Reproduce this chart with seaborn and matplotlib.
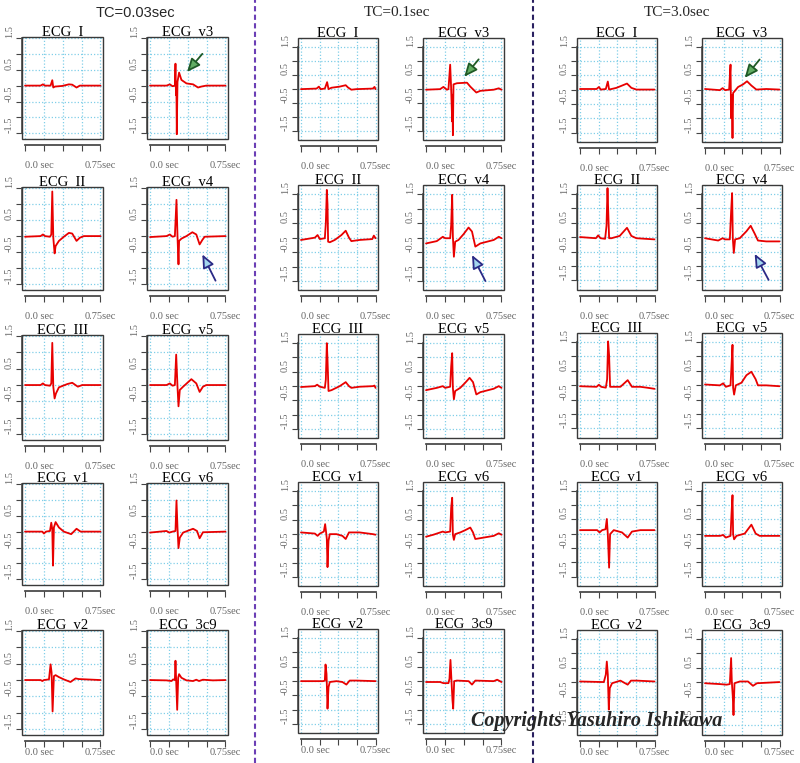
import matplotlib
matplotlib.use("Agg")
import matplotlib.pyplot as plt
import seaborn as sns
from matplotlib.patches import Rectangle
from matplotlib.lines import Line2D

# ---- ECG traces (time in sec, amplitude in mV) ----
# TC = 0.03 sec
g1_I_t = [0.0, 0.155, 0.178, 0.198, 0.254, 0.271, 0.281, 0.297, 0.370, 0.436, 0.469, 0.512, 0.545, 0.75]
g1_I_v = [0.0, 0.0, 0.04, 0.0, 0.0, 0.17, -0.06, -0.03, -0.01, 0.04, 0.03, -0.06, 0.0, 0.0]
g1_v3_t = [0.0, 0.164, 0.197, 0.224, 0.247, 0.253, 0.258, 0.262, 0.266, 0.273, 0.289, 0.312, 0.362, 0.428, 0.477, 0.510, 0.559, 0.75]
g1_v3_v = [0.0, 0.0, 0.04, -0.02, 0.0, 0.69, -0.3, 0.1, -1.53, 0.12, 0.41, 0.18, 0.07, 0.04, -0.06, -0.03, 0.0, 0.0]
g1_II_t = [0.0, 0.155, 0.178, 0.198, 0.248, 0.261, 0.271, 0.281, 0.294, 0.304, 0.337, 0.386, 0.436, 0.469, 0.512, 0.545, 0.585, 0.75]
g1_II_v = [-0.02, 0.0, 0.05, 0.0, -0.02, 0.05, 1.39, -0.05, -0.54, -0.31, -0.15, -0.02, 0.10, 0.08, -0.15, -0.05, 0.0, 0.0]
g1_v4_t = [0.0, 0.164, 0.197, 0.224, 0.247, 0.263, 0.273, 0.283, 0.289, 0.312, 0.362, 0.421, 0.460, 0.493, 0.520, 0.543, 0.75]
g1_v4_v = [-0.03, 0.0, 0.05, -0.02, 0.0, 1.13, 0.0, -0.88, -0.15, -0.08, 0.0, 0.12, 0.05, -0.26, -0.12, -0.02, 0.0]
g1_III_t = [0.0, 0.155, 0.178, 0.198, 0.248, 0.261, 0.271, 0.281, 0.294, 0.307, 0.337, 0.420, 0.469, 0.525, 0.568, 0.75]
g1_III_v = [0.0, 0.0, 0.05, 0.0, -0.02, 0.05, 1.29, -0.05, -0.41, -0.26, -0.07, 0.03, 0.07, -0.05, 0.0, 0.0]
g1_v5_t = [0.0, 0.164, 0.197, 0.224, 0.247, 0.260, 0.273, 0.283, 0.296, 0.329, 0.411, 0.460, 0.493, 0.526, 0.559, 0.75]
g1_v5_v = [0.0, 0.0, 0.05, -0.02, 0.0, 0.93, -0.05, -0.65, -0.15, -0.05, 0.18, 0.05, -0.21, -0.05, 0.0, 0.0]
g1_v1_t = [0.0, 0.172, 0.188, 0.208, 0.248, 0.261, 0.271, 0.278, 0.287, 0.304, 0.337, 0.386, 0.459, 0.512, 0.552, 0.75]
g1_v1_v = [0.0, 0.0, -0.06, 0.0, 0.02, 0.28, 0.07, -1.07, 0.13, 0.30, 0.13, 0.0, -0.08, 0.09, 0.0, 0.0]
g1_v6_t = [0.0, 0.164, 0.191, 0.224, 0.253, 0.263, 0.273, 0.283, 0.296, 0.329, 0.428, 0.467, 0.493, 0.526, 0.75]
g1_v6_v = [-0.03, 0.02, -0.03, 0.0, 0.02, 0.98, 0.12, -0.52, -0.19, -0.03, 0.09, 0.02, -0.21, -0.02, 0.0]
g1_v2_t = [0.0, 0.155, 0.172, 0.188, 0.238, 0.254, 0.264, 0.274, 0.287, 0.304, 0.337, 0.386, 0.452, 0.502, 0.535, 0.75]
g1_v2_v = [0.0, 0.0, -0.03, 0.0, 0.02, 0.48, 0.23, -0.96, 0.12, 0.15, 0.09, 0.02, -0.06, 0.05, 0.03, 0.0]
g1_3c9_t = [0.0, 0.164, 0.214, 0.230, 0.247, 0.253, 0.260, 0.270, 0.280, 0.289, 0.312, 0.362, 0.428, 0.460, 0.487, 0.526, 0.625, 0.75]
g1_3c9_v = [0.0, -0.01, -0.03, 0.02, 0.0, 0.59, -0.03, -0.91, 0.07, 0.18, 0.07, -0.01, -0.03, 0.01, -0.03, 0.01, -0.01, 0.0]

# TC = 0.1 sec
g2_I_t = [0.0, 0.157, 0.18, 0.197, 0.24, 0.263, 0.277, 0.307, 0.39, 0.45, 0.473, 0.507, 0.557, 0.723, 0.74, 0.75]
g2_I_v = [0.0, 0.02, 0.09, 0.0, 0.02, 0.25, 0.0, 0.05, 0.09, 0.14, 0.06, -0.02, 0.0, 0.02, 0.08, 0.0]
g2_v3_t = [0.0, 0.14, 0.173, 0.207, 0.223, 0.24, 0.25, 0.26, 0.263, 0.267, 0.273, 0.307, 0.407, 0.44, 0.5, 0.54, 0.673, 0.723, 0.75]
g2_v3_v = [-0.02, 0.0, 0.08, -0.02, 0.0, 0.87, 0.0, -1.15, -0.2, -1.64, 0.17, 0.21, 0.23, 0.09, -0.12, -0.06, -0.02, 0.03, -0.02]
g2_II_t = [0.0, 0.14, 0.167, 0.19, 0.24, 0.25, 0.26, 0.267, 0.273, 0.29, 0.34, 0.407, 0.45, 0.483, 0.507, 0.59, 0.717, 0.733, 0.75]
g2_II_v = [-0.08, 0.0, 0.09, -0.05, -0.02, 0.5, 1.65, 1.15, -0.14, -0.16, -0.08, 0.09, 0.24, 0.0, -0.12, -0.08, -0.05, 0.07, -0.02]
g2_v4_t = [0.0, 0.107, 0.167, 0.19, 0.24, 0.25, 0.26, 0.267, 0.277, 0.29, 0.323, 0.373, 0.423, 0.457, 0.49, 0.54, 0.673, 0.723, 0.75]
g2_v4_v = [-0.2, -0.12, 0.03, -0.02, -0.02, 0.44, 1.48, 0.03, -0.66, -0.14, -0.08, 0.12, 0.35, 0.21, -0.31, -0.2, -0.08, 0.03, -0.02]
g2_III_t = [0.0, 0.14, 0.163, 0.19, 0.24, 0.25, 0.26, 0.267, 0.277, 0.307, 0.39, 0.45, 0.483, 0.507, 0.59, 0.723, 0.74, 0.75]
g2_III_v = [-0.03, 0.0, 0.05, -0.02, -0.06, 0.23, 1.5, 0.92, -0.17, -0.14, 0.0, 0.14, 0.0, -0.06, -0.02, 0.0, 0.02, -0.06]
g2_v5_t = [0.0, 0.107, 0.167, 0.19, 0.24, 0.25, 0.26, 0.267, 0.277, 0.29, 0.34, 0.39, 0.433, 0.467, 0.5, 0.54, 0.673, 0.723, 0.75]
g2_v5_v = [-0.14, -0.06, 0.0, -0.06, -0.02, 0.69, 1.15, -0.06, -0.46, -0.17, -0.06, 0.12, 0.29, 0.14, -0.29, -0.21, -0.09, 0.0, -0.06]
g2_v1_t = [0.0, 0.14, 0.167, 0.19, 0.23, 0.243, 0.253, 0.26, 0.267, 0.277, 0.29, 0.357, 0.417, 0.45, 0.483, 0.59, 0.723, 0.75]
g2_v1_v = [0.06, 0.02, -0.06, 0.02, 0.09, 0.35, 0.06, -0.17, -1.15, -0.23, 0.0, 0.0, -0.06, -0.17, 0.06, 0.06, 0.0, -0.02]
g2_v6_t = [0.0, 0.073, 0.167, 0.19, 0.24, 0.25, 0.26, 0.267, 0.277, 0.29, 0.34, 0.39, 0.44, 0.467, 0.49, 0.54, 0.673, 0.723, 0.75]
g2_v6_v = [-0.09, -0.02, 0.09, 0.06, 0.09, 0.92, 1.27, -0.02, -0.2, 0.0, 0.06, 0.14, 0.23, 0.06, -0.17, -0.14, -0.06, 0.03, -0.02]
g2_v2_t = [0.0, 0.223, 0.24, 0.247, 0.257, 0.267, 0.277, 0.29, 0.357, 0.417, 0.457, 0.49, 0.557, 0.75]
g2_v2_v = [0.0, 0.0, 0.02, 0.58, 0.25, -0.96, -0.21, -0.03, 0.0, -0.03, -0.12, 0.02, 0.02, 0.0]
g2_3c9_t = [0.0, 0.14, 0.173, 0.223, 0.233, 0.243, 0.253, 0.263, 0.27, 0.28, 0.307, 0.423, 0.457, 0.49, 0.673, 0.707, 0.75]
g2_3c9_v = [-0.03, -0.03, -0.07, -0.07, 0.08, 0.74, 0.02, -0.67, -0.96, 0.0, 0.02, 0.0, -0.12, 0.02, 0.0, 0.05, -0.03]

# TC = 3.0 sec
g3_I_t = [0.0, 0.167, 0.19, 0.21, 0.26, 0.28, 0.293, 0.367, 0.473, 0.517, 0.567, 0.75]
g3_I_v = [0.02, 0.02, 0.09, 0.0, 0.02, 0.28, 0.0, 0.06, 0.21, 0.06, 0.0, 0.0]
g3_v3_t = [0.0, 0.15, 0.177, 0.203, 0.243, 0.257, 0.263, 0.27, 0.277, 0.283, 0.333, 0.383, 0.423, 0.467, 0.517, 0.617, 0.75]
g3_v3_v = [0.02, -0.02, 0.05, -0.02, 0.0, 0.87, -1.0, -0.2, -1.69, -0.12, 0.09, 0.18, 0.29, 0.14, 0.0, 0.02, 0.0]
g3_II_t = [0.0, 0.16, 0.183, 0.207, 0.253, 0.267, 0.277, 0.283, 0.293, 0.317, 0.4, 0.473, 0.517, 0.567, 0.75]
g3_II_v = [0.0, -0.04, 0.06, -0.04, -0.06, 0.39, 1.69, 1.02, -0.04, -0.04, 0.04, 0.32, 0.04, -0.04, -0.08]
g3_v4_t = [0.0, 0.133, 0.177, 0.203, 0.25, 0.263, 0.273, 0.28, 0.29, 0.303, 0.35, 0.417, 0.46, 0.5, 0.533, 0.617, 0.75]
g3_v4_v = [-0.04, -0.12, -0.04, -0.08, -0.08, 0.88, 1.52, -0.04, -0.55, -0.08, -0.04, 0.2, 0.39, 0.12, -0.12, -0.15, -0.15]
g3_III_t = [0.0, 0.167, 0.19, 0.213, 0.26, 0.273, 0.283, 0.293, 0.303, 0.407, 0.48, 0.523, 0.607, 0.673, 0.75]
g3_III_v = [-0.04, -0.06, 0.01, -0.06, -0.09, 0.2, 1.51, 1.03, -0.06, -0.06, 0.17, -0.06, -0.06, -0.09, -0.13]
g3_v5_t = [0.0, 0.15, 0.183, 0.21, 0.257, 0.267, 0.277, 0.283, 0.293, 0.31, 0.367, 0.417, 0.467, 0.51, 0.533, 0.617, 0.75]
g3_v5_v = [0.02, -0.01, 0.06, -0.06, -0.01, 0.68, 1.39, -0.09, -0.33, -0.01, 0.08, 0.34, 0.46, 0.2, -0.01, -0.01, -0.04]
g3_v1_t = [0.0, 0.173, 0.197, 0.223, 0.257, 0.27, 0.28, 0.293, 0.303, 0.34, 0.423, 0.48, 0.523, 0.607, 0.75]
g3_v1_v = [0.12, 0.12, 0.04, 0.12, 0.15, 0.51, -0.02, -1.19, -0.02, 0.12, 0.04, -0.14, 0.07, 0.12, 0.12]
g3_v6_t = [0.0, 0.15, 0.183, 0.21, 0.257, 0.267, 0.277, 0.283, 0.293, 0.317, 0.4, 0.467, 0.51, 0.55, 0.75]
g3_v6_v = [-0.08, -0.08, -0.05, -0.14, -0.08, 0.69, 1.34, -0.02, -0.2, -0.08, 0.0, 0.31, 0.0, -0.08, -0.08]
g3_v2_t = [0.0, 0.24, 0.26, 0.27, 0.28, 0.29, 0.3, 0.323, 0.407, 0.48, 0.513, 0.573, 0.75]
g3_v2_v = [0.02, 0.0, 0.26, 0.71, 0.26, -0.95, -0.21, -0.04, 0.05, -0.09, 0.05, 0.05, 0.02]
g3_3c9_t = [0.0, 0.15, 0.217, 0.25, 0.263, 0.27, 0.28, 0.287, 0.297, 0.35, 0.433, 0.483, 0.523, 0.75]
g3_3c9_v = [-0.04, -0.07, -0.09, -0.07, 0.83, 0.02, -0.51, -1.14, -0.04, 0.02, 0.02, -0.13, -0.04, 0.0]

group_titles = ["TC=0.03sec", "TC=0.1sec", "TC=3.0sec"]
lead_grid = [["I", "v3"], ["II", "v4"], ["III", "v5"], ["v1", "v6"], ["v2", "3c9"]]
x_ticks = [0.0, 0.1875, 0.375, 0.5625, 0.75]
x_labels = ["0.0 sec", "", "", "", "0.75sec"]
y_ticks = [-1.5, -1.0, -0.5, 0.0, 0.5, 1.0, 1.5]
y_labels = ["-1.5", "", "-0.5", "", "0.5", "", "1.5"]

# arrows: (tail, head) in data units
green_arrows = [((0.52, 1.0), (0.368, 0.43)), ((0.523, 1.06), (0.38, 0.44)), ((0.55, 1.05), (0.40, 0.41))]
blue_arrows = [((0.651, -1.39), (0.52, -0.57)), ((0.59, -1.5), (0.457, -0.6)), ((0.64, -1.48), (0.5, -0.58))]

traces = {}
for g in (1, 2, 3):
    for row in lead_grid:
        for lead in row:
            traces[(g, lead)] = (globals()[f"g{g}_{lead}_t"], globals()[f"g{g}_{lead}_v"])

sns.set_theme(style="white")
SERIF = ["Liberation Serif", "DejaVu Serif"]
SANS = ["Liberation Sans", "DejaVu Sans"]
plt.rcParams["font.family"] = SERIF

W, H = 800, 763
fig = plt.figure(figsize=(W / 100, H / 100), dpi=100)
fig.patch.set_facecolor("white")

# panel boxes in pixels
group_cols = [[(22, 103), (147, 228)], [(298, 378), (423, 504)], [(577, 657), (702, 782)]]
group_rows = [
    [(37, 139), (187, 290), (335, 440), (483, 585), (630, 735)],
    [(38, 140), (185, 290), (334, 438), (482, 586), (629, 733)],
    [(38, 142), (185, 290), (333, 438), (482, 586), (630, 735)],
]
group_ylim = [(-1.68, 1.53), (-1.81, 1.82), (-1.83, 1.8)]

RED = "#e80000"
GRID = "#80cfe8"


def draw_panel(rect, ylim, lead, t, v, xpad):
    ax = fig.add_axes(rect)
    sns.lineplot(x=t, y=v, ax=ax, color=RED, lw=1.3, estimator=None, sort=False)
    ax.set_xlim(-0.03, 0.775)
    ax.set_ylim(*ylim)
    ax.set_xticks(x_ticks)
    ax.set_xticklabels(x_labels)
    ax.set_yticks(y_ticks)
    ax.set_yticklabels(y_labels, rotation=90, va="bottom")
    ax.grid(True, color=GRID, ls=(0, (1, 1.6)), lw=0.9)
    for s in ["top", "right"]:
        ax.spines[s].set_visible(False)
    ax.spines["left"].set_bounds(-1.5, 1.5)
    ax.spines["left"].set_color("#555555")
    ax.spines["bottom"].set_bounds(0, 0.75)
    ax.spines["bottom"].set_position(("outward", 4))
    ax.spines["bottom"].set_color("#444444")
    ax.add_patch(Rectangle((0, 0), 1, 1, transform=ax.transAxes, fill=False,
                           ec="#3a3a3a", lw=1.0, clip_on=False, zorder=5))
    ax.tick_params(axis="both", length=4, width=0.8, color="#444444",
                   labelcolor="#666666", labelsize=7.5, direction="out",
                   left=True, bottom=True)
    ax.tick_params(axis="x", pad=xpad)
    ax.tick_params(axis="y", pad=2)
    ax.xaxis.get_major_ticks()[0].label1.set_horizontalalignment("left")
    ax.set_xlabel("")
    ax.set_ylabel("")
    ax.set_title(f"ECG  {lead}", fontsize=10.5, pad=1, color="black")
    return ax


def arrow(ax, tail, head, fc, ec):
    ax.annotate("", xy=head, xytext=tail,
                arrowprops=dict(arrowstyle="-|>,head_length=0.8,head_width=0.35",
                                mutation_scale=10, fc=fc, ec=ec, lw=1.3,
                                shrinkA=0, shrinkB=0))


for g in range(3):
    for r, row in enumerate(lead_grid):
        top, bot = group_rows[g][r]
        xpad = 8 if r < 4 else 1.5
        for c, lead in enumerate(row):
            x0, x1 = group_cols[g][c]
            rect = [x0 / W, 1 - bot / H, (x1 - x0) / W, (bot - top) / H]
            t, v = traces[(g + 1, lead)]
            ax = draw_panel(rect, group_ylim[g], lead, t, v, xpad)
            if lead == "v3":
                arrow(ax, *green_arrows[g], fc="#62ad62", ec="#1f5a26")
            if lead == "v4":
                arrow(ax, *blue_arrows[g], fc="#a3d6ee", ec="#2b2a86")

# group headers
fig.text(135 / W, 1 - 13 / H, group_titles[0], family=SANS, fontsize=10.5, ha="center", va="center")
fig.text(397 / W, 1 - 13 / H, group_titles[1], family=SERIF, fontsize=11, ha="center", va="center")
fig.text(677 / W, 1 - 13 / H, group_titles[2], family=SERIF, fontsize=11, ha="center", va="center")

# dashed separators
fig.add_artist(Line2D([255 / W, 255 / W], [0, 1], transform=fig.transFigure,
                      color="#6b3fb5", lw=1.5, ls=(0, (2.5, 1.6))))
fig.add_artist(Line2D([533 / W, 533 / W], [0, 1], transform=fig.transFigure,
                      color="#2a2060", lw=1.5, ls=(0, (2.5, 1.6))))

fig.text(597 / W, 1 - 721 / H, "Copyrights Yasuhiro Ishikawa", family=SERIF,
         fontsize=14.5, fontweight="bold", fontstyle="italic",
         ha="center", va="center", zorder=10)

fig.savefig("out.png", dpi=100, facecolor="white")
